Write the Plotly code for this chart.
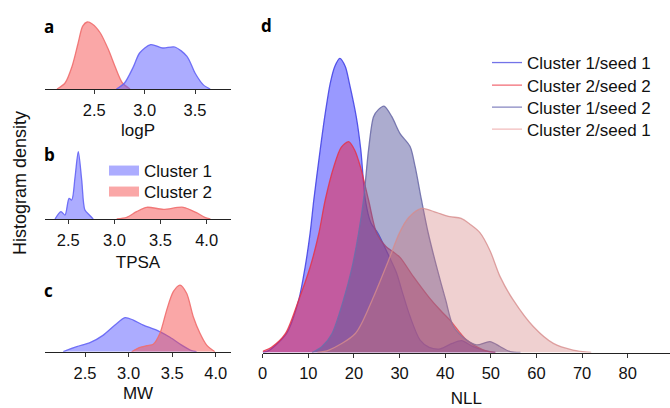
import plotly.graph_objects as go

# ---------------- data ----------------
# Panel a: logP
logp_c1_x = [2.72, 2.80, 2.89, 2.95, 3.06, 3.18, 3.30, 3.42, 3.50, 3.58, 3.65]
logp_c1_y = [0.0, 0.30, 1.13, 1.80, 2.22, 2.05, 2.10, 1.63, 0.80, 0.22, 0.0]
logp_c2_x = [2.13, 2.21, 2.28, 2.34, 2.385, 2.43, 2.48, 2.56, 2.64, 2.705, 2.78, 2.855]
logp_c2_y = [0.0, 0.30, 1.14, 2.30, 3.14, 3.35, 3.25, 2.80, 1.97, 1.14, 0.30, 0.0]

# Panel b: TPSA
tpsa_c1_x = [2.356, 2.42, 2.464, 2.508, 2.537, 2.573, 2.608, 2.645, 2.68, 2.728, 2.77]
tpsa_c1_y = [0.0, 1.46, 0.80, 4.14, 3.80, 8.40, 13.46, 7.80, 1.80, 0.80, 0.0]
tpsa_c2_x = [3.025, 3.133, 3.24, 3.35, 3.53, 3.747, 3.89, 3.98, 4.04]
tpsa_c2_y = [0.0, 0.34, 1.46, 2.34, 1.94, 2.34, 1.26, 0.34, 0.0]

# Panel c: MW
mw_c1_x = [2.25, 2.405, 2.557, 2.71, 2.844, 2.959, 3.054, 3.169, 3.322, 3.475, 3.609, 3.724, 3.78]
mw_c1_y = [0.0, 0.25, 0.45, 0.83, 1.33, 1.70, 1.58, 1.33, 1.08, 0.72, 0.33, 0.05, 0.0]
mw_c2_x = [3.035, 3.131, 3.208, 3.283, 3.36, 3.437, 3.513, 3.59, 3.666, 3.742, 3.819, 3.896, 3.99]
mw_c2_y = [0.0, 0.22, 0.30, 0.37, 0.92, 2.08, 3.00, 3.33, 2.92, 1.75, 0.92, 0.33, 0.0]

# Panel d: NLL
nll_c1s1_x = [0, 1.5, 5.3, 7.9, 9.3, 10.4, 11.2, 12.6, 13.6, 14.8, 15.8, 16.9, 18.1, 19.0, 20.5,
              21.5, 22.5, 23.7, 25.3, 27.3, 29.3, 30.5, 32.3, 34.5, 36.5, 38.9, 41.5, 43.6, 46, 48.5, 51]
nll_c1s1_y = [0, .0008, .0065, .0174, .0283, .0396, .0505, .0671, .0781, .0891, .0947, .0974, .0947,
              .0891, .0781, .0671, .0505, .0430, .0394, .0331, .0265, .0205, .0119, .0041, .0017,
              .0012, .0030, .0039, .0020, .0007, 0]
nll_c2s2_x = [0, 2, 5, 7.9, 10.4, 12.3, 13.7, 15.6, 17.2, 18.85, 20.2, 21.4, 23.2, 25, 27, 28.5,
              30.1, 33, 36.5, 39, 41, 44.7, 48.4, 51]
nll_c2s2_y = [.0004, .0018, .0063, .0174, .0283, .0394, .0505, .0616, .0679, .0698, .0669, .0616,
              .0505, .0394, .0351, .0334, .0315, .0252, .0182, .0139, .0108, .0041, .0008, 0]
nll_c1s2_x = [10.8, 13, 15.2, 17.7, 19.6, 21.0, 22.1, 23.2, 24.3, 25.4, 26.6, 28.3, 30.1, 32.3,
              33.4, 34.8, 36.3, 38.1, 40.1, 41.8, 44.7, 46.9, 49.8, 52, 54.2, 56.5]
nll_c1s2_y = [0, .0020, .0063, .0174, .0283, .0394, .0505, .0671, .0781, .0805, .0816, .0781,
              .0725, .0682, .0616, .0505, .0394, .0285, .0174, .0086, .0041, .0025, .0036, .0020,
              .0003, 0]
nll_c2s1_x = [12, 14.5, 20.3, 24, 27.4, 30, 32, 34.85, 38, 41, 43.5, 45.5, 47.6, 49.8, 52, 54.9,
              59.3, 63.7, 68, 72]
nll_c2s1_y = [0, .0008, .0063, .0174, .0298, .0397, .0447, .0477, .0464, .0450, .0444, .0424,
              .0397, .0338, .0252, .0174, .0086, .0030, .0008, 0]

small_ticks = [2.5, 3.0, 3.5, 4.0]
small_ticktext = ["2.5", "3.0", "3.5", "4.0"]
nll_ticks = [0, 10, 20, 30, 40, 50, 60, 70, 80]
nll_ticktext = [str(v) for v in nll_ticks]

cluster_names = ["Cluster 1", "Cluster 2"]
nll_names = ["Cluster 1/seed 1", "Cluster 2/seed 2", "Cluster 1/seed 2", "Cluster 2/seed 1"]

# ---------------- styles ----------------
W, H = 670, 408
FONT = "Liberation Sans, Arial, Helvetica, sans-serif"
BLUE_LINE, BLUE_FILL = "rgba(100,100,245,0.9)", "rgba(90,90,255,0.5)"
RED_LINE, RED_FILL = "rgba(240,110,110,0.9)", "rgba(245,80,80,0.5)"

d_line = ["rgba(70,70,230,0.9)", "rgba(230,50,70,0.85)", "rgba(110,110,170,0.9)", "rgba(215,140,140,0.8)"]
d_fill = ["rgba(60,60,255,0.52)", "rgba(230,40,80,0.55)", "rgba(90,90,160,0.5)", "rgba(210,120,120,0.35)"]
d_leg = ["rgba(100,100,230,0.9)", "rgba(240,90,100,0.9)", "rgba(120,120,185,0.9)", "rgba(240,180,180,0.9)"]


def px_x(p):
    return p / W


def px_y(p):
    return 1 - p / H


fig = go.Figure()


def area(x, y, xa, ya, line, fill):
    fig.add_trace(go.Scatter(
        x=x, y=y, xaxis=xa, yaxis=ya, mode="lines", fill="tozeroy",
        line=dict(color=line, width=1.3, shape="spline", smoothing=0.8),
        fillcolor=fill, showlegend=False, hoverinfo="skip"))


# panel a
area(logp_c2_x, logp_c2_y, "x", "y", RED_LINE, RED_FILL)
area(logp_c1_x, logp_c1_y, "x", "y", BLUE_LINE, BLUE_FILL)
# panel b
area(tpsa_c1_x, tpsa_c1_y, "x2", "y2", BLUE_LINE, BLUE_FILL)
area(tpsa_c2_x, tpsa_c2_y, "x2", "y2", RED_LINE, RED_FILL)
# panel c
area(mw_c1_x, mw_c1_y, "x3", "y3", BLUE_LINE, BLUE_FILL)
area(mw_c2_x, mw_c2_y, "x3", "y3", RED_LINE, RED_FILL)
# panel d
nll_x = [nll_c1s1_x, nll_c2s2_x, nll_c1s2_x, nll_c2s1_x]
nll_y = [nll_c1s1_y, nll_c2s2_y, nll_c1s2_y, nll_c2s1_y]
for i in range(4):
    area(nll_x[i], nll_y[i], "x4", "y4", d_line[i], d_fill[i])

legend_font = dict(family=FONT, size=17, color="#111")
legends = {}

# legend entries for panel d (line samples), one legend box per entry for exact row spacing
d_leg_rows = [63, 85.5, 107.5, 129.5]
for i, name in enumerate(nll_names):
    key = "legend" if i == 0 else "legend%d" % (i + 1)
    fig.add_trace(go.Scatter(x=[None], y=[None], xaxis="x4", yaxis="y4", mode="lines",
                             name=name, line=dict(color=d_leg[i], width=1.3), legend=key))
    legends[key] = dict(x=px_x(487), y=px_y(d_leg_rows[i] - 18), xanchor="left", yanchor="top",
                        font=legend_font, bgcolor="rgba(0,0,0,0)", itemwidth=30)

# legend entries for panel b (patches)
b_leg_rows = [170, 191]
for j, (name, col) in enumerate(zip(cluster_names, ["rgba(90,90,255,0.5)", "rgba(245,80,80,0.5)"])):
    key = "legend%d" % (5 + j)
    fig.add_trace(go.Scatter(x=[None], y=[None], xaxis="x2", yaxis="y2", mode="lines",
                             name=name, line=dict(color=col, width=10), legend=key))
    legends[key] = dict(x=px_x(104), y=px_y(b_leg_rows[j] - 17), xanchor="left", yanchor="top",
                        font=legend_font, bgcolor="rgba(0,0,0,0)", itemwidth=30)

ax_common = dict(showgrid=False, zeroline=False, showline=True, linecolor="#222", linewidth=1.3,
                 ticks="outside", ticklen=4, tickcolor="#333", tickwidth=1,
                 tickfont=dict(family=FONT, size=16.5, color="#111"), ticklabelstandoff=2)
ya_common = dict(visible=False, showgrid=False, zeroline=False, fixedrange=True)
title_font = dict(family=FONT, size=17, color="#111")

small_dom = [px_x(45), px_x(231)]
fig.update_layout(
    width=W, height=H, margin=dict(l=0, r=0, t=0, b=0, autoexpand=False),
    paper_bgcolor="white", plot_bgcolor="white",
    xaxis=dict(ax_common, domain=small_dom, range=[2.011, 3.857], anchor="y",
               tickvals=small_ticks[:3], ticktext=small_ticktext[:3],
               title=dict(text="logP", font=title_font, standoff=6)),
    yaxis=dict(ya_common, domain=[px_y(89), px_y(19)], range=[0, 3.5], anchor="x"),
    xaxis2=dict(ax_common, domain=small_dom, range=[2.247, 4.264], anchor="y2",
                tickvals=small_ticks, ticktext=small_ticktext,
                title=dict(text="TPSA", font=title_font, standoff=8)),
    yaxis2=dict(ya_common, domain=[px_y(219), px_y(149)], range=[0, 14], anchor="x2"),
    xaxis3=dict(ax_common, domain=small_dom, range=[2.041, 4.175], anchor="y3",
                tickvals=small_ticks, ticktext=small_ticktext,
                title=dict(text="MW", font=title_font, standoff=6)),
    yaxis3=dict(ya_common, domain=[px_y(351.7), px_y(281.7)], range=[0, 3.5], anchor="x3"),
    xaxis4=dict(ax_common, domain=[px_x(262.7), 1], range=[0, 89.27], anchor="y4",
                tickvals=nll_ticks, ticktext=nll_ticktext,
                title=dict(text="NLL", font=title_font, standoff=15)),
    yaxis4=dict(ya_common, domain=[px_y(352.5), px_y(50.5)], range=[0, 0.1], anchor="x4"),
    showlegend=True,
    **legends,
)

letter_font = dict(family="Open Sans, DejaVu Sans, sans-serif", size=17, color="#000")
for txt, x, y in [("a", 49, 26), ("b", 49, 154), ("c", 48, 290), ("d", 266, 25)]:
    fig.add_annotation(text="<b>%s</b>" % txt, x=px_x(x), y=px_y(y), xref="paper", yref="paper",
                       showarrow=False, xanchor="center", yanchor="middle", font=letter_font)

fig.add_annotation(text="Histogram density", x=px_x(20), y=px_y(183), xref="paper", yref="paper",
                   showarrow=False, textangle=-90, xanchor="center", yanchor="middle",
                   font=dict(family=FONT, size=18, color="#111"))

fig.write_html("out.html", config={"displayModeBar": False},
               post_script="document.body.style.margin='0';document.body.style.overflow='hidden';")
